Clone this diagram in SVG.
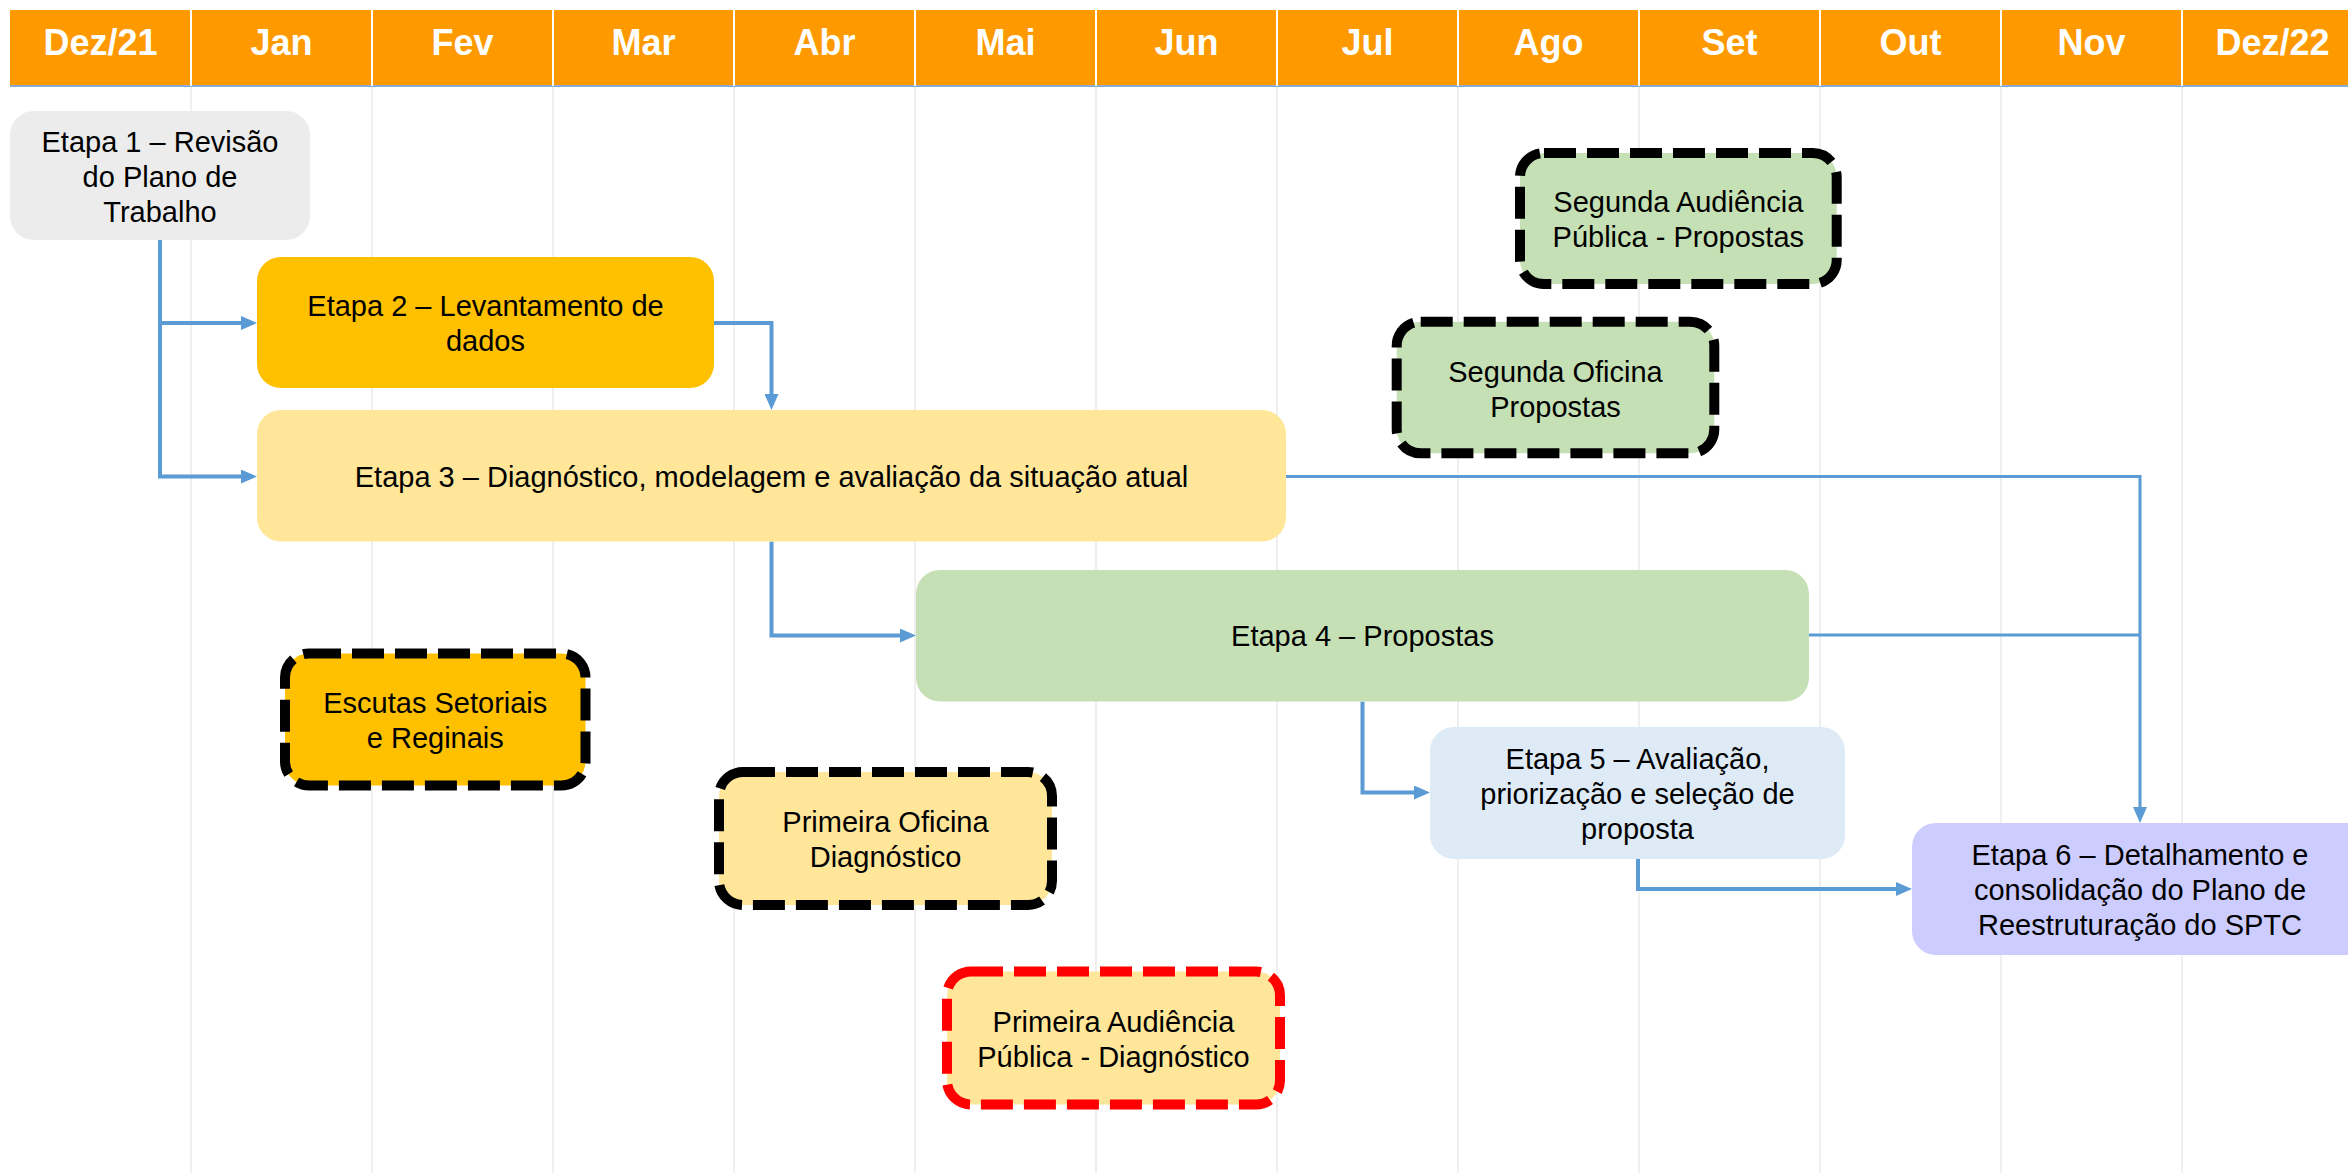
<svg xmlns="http://www.w3.org/2000/svg" width="2348" height="1173" viewBox="0 0 2348 1173">
<style>
  .hdr { fill: #fe9a00; }
  .sep { stroke: #ffffff; stroke-width: 2; }
  .grid { stroke: #efefef; stroke-width: 2; }
  .mon { font-family: "Liberation Sans", Arial, sans-serif; font-weight: bold; font-size: 36px; fill: #ffffff; text-anchor: middle; }
  .lbl { font-family: "Liberation Sans", Arial, sans-serif; font-size: 29px; fill: #000000; text-anchor: middle; }
  .conn { fill: none; stroke: #5b9bd5; stroke-width: 4; }
  .thin { stroke-width: 3; }
  .dash { stroke: #000000; stroke-width: 10; stroke-dasharray: 32 11; }
  .red { stroke: #ff0000; }
</style>
<defs>
  <marker id="arr" viewBox="0 0 16 14" refX="8" refY="7" markerWidth="16" markerHeight="14" markerUnits="userSpaceOnUse" orient="auto">
    <path d="M0,0 L16,7 L0,14 z" fill="#5b9bd5"/>
  </marker>
</defs>
<rect width="2348" height="1173" fill="#ffffff"/>

<g id="grid">
  <line class="grid" x1="191" y1="87" x2="191" y2="1173"/>
  <line class="grid" x1="372" y1="87" x2="372" y2="1173"/>
  <line class="grid" x1="553" y1="87" x2="553" y2="1173"/>
  <line class="grid" x1="734" y1="87" x2="734" y2="1173"/>
  <line class="grid" x1="915" y1="87" x2="915" y2="1173"/>
  <line class="grid" x1="1096" y1="87" x2="1096" y2="1173"/>
  <line class="grid" x1="1277" y1="87" x2="1277" y2="1173"/>
  <line class="grid" x1="1458" y1="87" x2="1458" y2="1173"/>
  <line class="grid" x1="1639" y1="87" x2="1639" y2="1173"/>
  <line class="grid" x1="1820" y1="87" x2="1820" y2="1173"/>
  <line class="grid" x1="2001" y1="87" x2="2001" y2="1173"/>
  <line class="grid" x1="2182" y1="87" x2="2182" y2="1173"/>
</g>

<g id="header">
  <rect class="hdr" x="10" y="10" width="2338" height="75"/>
  <line x1="10" y1="86" x2="2348" y2="86" stroke="#86acd6" stroke-width="2"/>
  <line class="sep" x1="191" y1="10" x2="191" y2="86"/>
  <line class="sep" x1="372" y1="10" x2="372" y2="86"/>
  <line class="sep" x1="553" y1="10" x2="553" y2="86"/>
  <line class="sep" x1="734" y1="10" x2="734" y2="86"/>
  <line class="sep" x1="915" y1="10" x2="915" y2="86"/>
  <line class="sep" x1="1096" y1="10" x2="1096" y2="86"/>
  <line class="sep" x1="1277" y1="10" x2="1277" y2="86"/>
  <line class="sep" x1="1458" y1="10" x2="1458" y2="86"/>
  <line class="sep" x1="1639" y1="10" x2="1639" y2="86"/>
  <line class="sep" x1="1820" y1="10" x2="1820" y2="86"/>
  <line class="sep" x1="2001" y1="10" x2="2001" y2="86"/>
  <line class="sep" x1="2182" y1="10" x2="2182" y2="86"/>
  <text class="mon" x="100.5" y="55">Dez/21</text>
  <text class="mon" x="281.5" y="55">Jan</text>
  <text class="mon" x="462.5" y="55">Fev</text>
  <text class="mon" x="643.5" y="55">Mar</text>
  <text class="mon" x="824.5" y="55">Abr</text>
  <text class="mon" x="1005.5" y="55">Mai</text>
  <text class="mon" x="1186.5" y="55">Jun</text>
  <text class="mon" x="1367.5" y="55">Jul</text>
  <text class="mon" x="1548.5" y="55">Ago</text>
  <text class="mon" x="1729.5" y="55">Set</text>
  <text class="mon" x="1910.5" y="55">Out</text>
  <text class="mon" x="2091.5" y="55">Nov</text>
  <text class="mon" x="2272.5" y="55">Dez/22</text>
</g>

<g id="connectors">
  <path class="conn" d="M160,240 V476.5 H249" marker-end="url(#arr)"/>
  <path class="conn" d="M160,323 H249" marker-end="url(#arr)"/>
  <path class="conn" d="M714,323 H771.5 V402" marker-end="url(#arr)"/>
  <path class="conn" d="M771.5,541.5 V635.5 H908" marker-end="url(#arr)"/>
  <path class="conn thin" d="M1286,476.5 H2140 V815" marker-end="url(#arr)"/>
  <path class="conn thin" d="M1809,635 H2140"/>
  <path class="conn" d="M1362.5,701.5 V792.5 H1422" marker-end="url(#arr)"/>
  <path class="conn" d="M1638,859 V889 H1904" marker-end="url(#arr)"/>
</g>

<g id="etapa1">
  <rect x="10" y="111" width="300" height="129" rx="24" fill="#ececec"/>
  <text class="lbl" x="160" y="151.5">Etapa 1 – Revisão</text>
  <text class="lbl" x="160" y="186.5">do Plano de</text>
  <text class="lbl" x="160" y="221.5">Trabalho</text>
</g>

<g id="etapa2">
  <rect x="257" y="257" width="457" height="131" rx="24" fill="#ffc000"/>
  <text class="lbl" x="485.5" y="316">Etapa 2 – Levantamento de</text>
  <text class="lbl" x="485.5" y="351">dados</text>
</g>

<g id="etapa3">
  <rect x="257" y="410" width="1029" height="131.5" rx="24" fill="#ffe699"/>
  <text class="lbl" x="771.5" y="487">Etapa 3 – Diagnóstico, modelagem e avaliação da situação atual</text>
</g>

<g id="etapa4">
  <rect x="916" y="570" width="893" height="131.5" rx="24" fill="#c5e0b4"/>
  <text class="lbl" x="1362.5" y="646">Etapa 4 – Propostas</text>
</g>

<g id="etapa5">
  <rect x="1430" y="727" width="415" height="132" rx="24" fill="#deebf7"/>
  <text class="lbl" x="1637.5" y="768.5">Etapa 5 – Avaliação,</text>
  <text class="lbl" x="1637.5" y="803.5">priorização e seleção de</text>
  <text class="lbl" x="1637.5" y="838.5">proposta</text>
</g>

<g id="etapa6">
  <rect x="1912" y="823" width="460" height="132" rx="24" fill="#ccccff"/>
  <text class="lbl" x="2140" y="865">Etapa 6 – Detalhamento e</text>
  <text class="lbl" x="2140" y="900">consolidação do Plano de</text>
  <text class="lbl" x="2140" y="935">Reestruturação do SPTC</text>
</g>

<g id="escutas">
  <rect class="dash" x="285" y="653.5" width="300.5" height="132" rx="24" fill="#ffc000"/>
  <text class="lbl" x="435.3" y="712.5">Escutas Setoriais</text>
  <text class="lbl" x="435.3" y="747.5">e Reginais</text>
</g>

<g id="primeira-oficina">
  <rect class="dash" x="719" y="772" width="333" height="133" rx="24" fill="#ffe699"/>
  <text class="lbl" x="885.5" y="832">Primeira Oficina</text>
  <text class="lbl" x="885.5" y="867">Diagnóstico</text>
</g>

<g id="primeira-audiencia">
  <rect class="dash red" x="947" y="971.5" width="333" height="133" rx="24" fill="#ffe699"/>
  <text class="lbl" x="1113.5" y="1031.5">Primeira Audiência</text>
  <text class="lbl" x="1113.5" y="1066.5">Pública - Diagnóstico</text>
</g>

<g id="segunda-oficina">
  <rect class="dash" x="1396.7" y="321.7" width="317.6" height="131.6" rx="24" fill="#c5e0b4"/>
  <text class="lbl" x="1555.5" y="381.5">Segunda Oficina</text>
  <text class="lbl" x="1555.5" y="416.5">Propostas</text>
</g>

<g id="segunda-audiencia">
  <rect class="dash" x="1520" y="153" width="316.7" height="131" rx="24" fill="#c5e0b4"/>
  <text class="lbl" x="1678.3" y="211.5">Segunda Audiência</text>
  <text class="lbl" x="1678.3" y="246.5">Pública - Propostas</text>
</g>
</svg>
